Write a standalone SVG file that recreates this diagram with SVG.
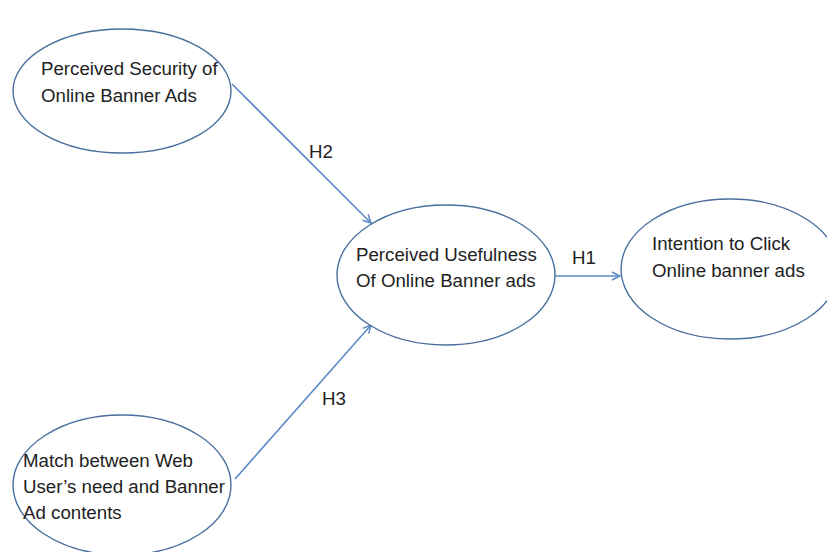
<svg xmlns="http://www.w3.org/2000/svg" width="827" height="552" viewBox="0 0 827 552">
<style>
.node ellipse{fill:#fff;stroke:#4a6f9e;stroke-width:1.4}
text{font-family:"Liberation Sans",Arial,sans-serif;font-size:18.7px;fill:#222}
.conn line{stroke:#5b8ac6;stroke-width:1.6;fill:none}
</style>
<defs>
<marker id="arr" viewBox="0 0 10 10" refX="9" refY="5" markerWidth="10" markerHeight="10" markerUnits="userSpaceOnUse" orient="auto">
<polyline points="1,1 9,5 1,9" fill="none" stroke="#5b8ac6" stroke-width="1.5"/>
</marker>
</defs>
<rect width="827" height="552" fill="#fff"/>
<g id="connectors" class="conn">
<line x1="232" y1="84" x2="371" y2="223" marker-end="url(#arr)"/>
<line x1="235" y1="479" x2="371" y2="325" marker-end="url(#arr)"/>
<line x1="555" y1="276" x2="620" y2="276" marker-end="url(#arr)"/>
<text x="309" y="158">H2</text>
<text x="322" y="405">H3</text>
<text x="572" y="264">H1</text>
</g>
<g id="security" class="node">
<ellipse cx="122" cy="91" rx="109" ry="62"/>
<text x="41" y="75">Perceived Security of</text>
<text x="41" y="102">Online Banner Ads</text>
</g>
<g id="usefulness" class="node">
<ellipse cx="446" cy="275" rx="109" ry="70"/>
<text x="356" y="261">Perceived Usefulness</text>
<text x="356" y="287">Of Online Banner ads</text>
</g>
<g id="intention" class="node">
<ellipse cx="730" cy="269" rx="109" ry="70"/>
<text x="652" y="250">Intention to Click</text>
<text x="652" y="277">Online banner ads</text>
</g>
<g id="match" class="node">
<ellipse cx="122" cy="485" rx="109" ry="70"/>
<text x="23" y="467">Match between Web</text>
<text x="23" y="493">User’s need and Banner</text>
<text x="23" y="519">Ad contents</text>
</g>
</svg>
